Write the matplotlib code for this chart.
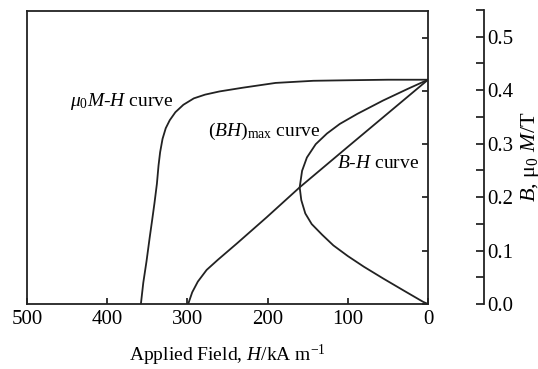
import matplotlib
matplotlib.use("Agg")
import matplotlib.pyplot as plt
import numpy as np

plt.rcParams['font.family'] = ['Liberation Serif', 'DejaVu Serif']
plt.rcParams['mathtext.fontset'] = 'custom'
plt.rcParams['mathtext.rm'] = 'Liberation Serif'
plt.rcParams['mathtext.it'] = 'Liberation Serif:italic'
plt.rcParams['mathtext.bf'] = 'Liberation Serif:bold'

# Data (H in kA/m, B / mu0M in T)
mh_H = [0, 50, 100, 143, 190, 231, 260, 278, 292, 305, 315, 322, 327, 331, 334, 336, 338, 341, 344, 347, 351, 355, 358]
mh_B = [0.421, 0.421, 0.420, 0.419, 0.415, 0.406, 0.399, 0.393, 0.386, 0.374, 0.360, 0.345,
        0.330, 0.310, 0.285, 0.260, 0.226, 0.190, 0.157, 0.125, 0.080, 0.040, 0.0]

bh_H = [0, 50, 100, 160, 201, 238, 262, 276, 287, 294, 299]
bh_B = [0.421, 0.358, 0.295, 0.219, 0.163, 0.114, 0.083, 0.064, 0.042, 0.022, 0.0]

bhmax_H = [0, 25, 56, 88, 110, 126, 140, 151, 157, 160, 158, 153, 145, 132, 118, 100, 80, 56, 30, 6, 0]
bhmax_B = [0.421, 0.404, 0.382, 0.357, 0.338, 0.320, 0.300, 0.275, 0.250, 0.219, 0.195, 0.170,
           0.150, 0.130, 0.110, 0.090, 0.070, 0.048, 0.025, 0.004, 0.0]

x_ticks = [500, 400, 300, 200, 100, 0]
y_ticks = [0.0, 0.1, 0.2, 0.3, 0.4, 0.5]

W, Hh = 538, 369
fig = plt.figure(figsize=(W / 100, Hh / 100), dpi=100)
ax = fig.add_axes([27 / W, (Hh - 304) / Hh, (428 - 27) / W, (304 - 11) / Hh])

lw = 1.3
ax.plot(mh_H, mh_B, color='#222222', lw=lw)
ax.plot(bh_H, bh_B, color='#222222', lw=lw)
ax.plot(bhmax_H, bhmax_B, color='#222222', lw=lw)

ax.set_xlim(500, 0)
ax.set_ylim(0, 0.55)
ax.set_xticks(x_ticks)
ax.set_xticklabels([str(v) for v in x_ticks], fontsize=15)
ax.yaxis.tick_right()
ax.set_yticks(y_ticks)
ax.set_yticklabels([])
ax.tick_params(axis='x', direction='in', length=4, width=1.1, pad=4)
ax.tick_params(axis='y', direction='in', length=4, width=1.1)
for s in ax.spines.values():
    s.set_linewidth(1.3)
    s.set_color('#222222')
ax.set_xlabel("Applied Field, $H$/kA m$^{-1}$", fontsize=14, labelpad=10)

ax.text(446, 0.371, r"$\mu_0M$-$H$ curve", fontsize=14, ha='left', va='baseline')
ax.text(274, 0.316, r"$(BH)_\mathrm{max}$ curve", fontsize=14, ha='left', va='baseline')
ax.text(113, 0.255, r"$B$-$H$ curve", fontsize=14, ha='left', va='baseline')

# Separate right axis
ax2 = fig.add_axes([484 / W, (Hh - 304) / Hh, 0.0001, (304 - 10) / Hh])
ax2.set_ylim(0, 0.55)
for k in ['left', 'top', 'bottom']:
    ax2.spines[k].set_visible(False)
ax2.spines['right'].set_linewidth(1.3)
ax2.spines['right'].set_color('#222222')
ax2.set_xticks([])
ax2.yaxis.tick_right()
ax2.yaxis.set_label_position('right')
ax2.set_yticks(y_ticks)
ax2.set_yticklabels([f"{v:.1f}" for v in y_ticks], fontsize=15)
ax2.set_yticks(np.arange(0.05, 0.56, 0.1), minor=True)
ax2.tick_params(axis='y', which='both', direction='in', length=6, width=1.1, pad=2)
ax2.set_ylabel(r"$B$, μ$_0$ $M$/T", fontsize=16, labelpad=4)
ax2.patch.set_visible(False)

fig.savefig("out.png", dpi=100)
